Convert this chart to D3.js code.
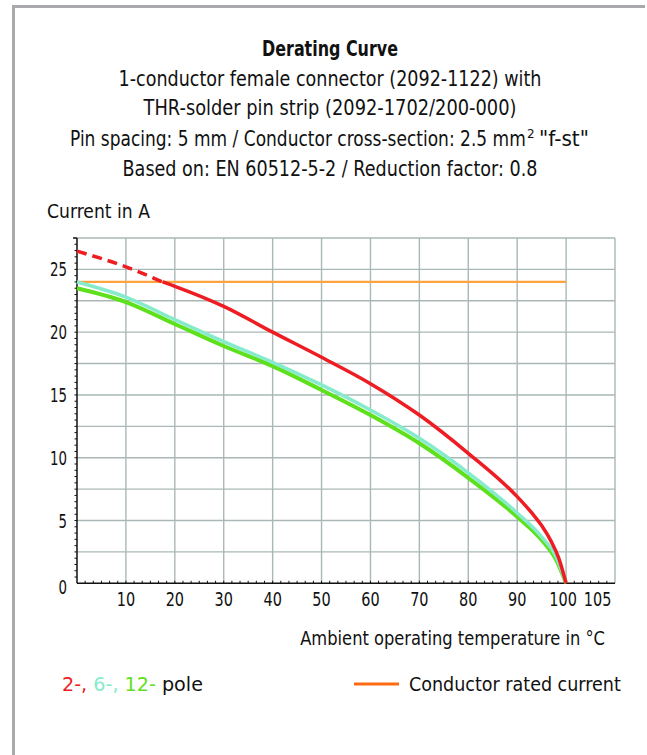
<!DOCTYPE html>
<html>
<head>
<meta charset="utf-8">
<script src="https://cdn.jsdelivr.net/npm/d3@7"></script>
<style>
  html, body { margin: 0; padding: 0; background: #fff; }
  svg { display: block; }
  text { font-family: "DejaVu Sans", sans-serif; fill: #111; }
</style>
</head>
<body>
<svg id="chart" width="647" height="755"></svg>
<script>
// ---- data ----
const titleLines = [
  "Derating Curve",
  "1-conductor female connector (2092-1122) with",
  "THR-solder pin strip (2092-1702/200-000)",
  "Pin spacing: 5 mm / Conductor cross-section: 2.5 mm",
  "Based on: EN 60512-5-2 / Reduction factor: 0.8"
];
const titleSup = "2";
const titleTail = "\"f-st\"";
const yAxisTitle = "Current in A";
const xAxisTitle = "Ambient operating temperature in °C";
const xTickLabels = [10, 20, 30, 40, 50, 60, 70, 80, 90, 100, 105];
const yTickLabels = [0, 5, 10, 15, 20, 25];

// 2-pole (red): dashed part above rated current, solid part below
const red2DashedT = [0, 10, 17.5];
const red2DashedI = [26.45, 25.2, 24.0];
const red2T = [17.5, 20, 30, 40, 50, 60, 70, 80, 90, 93, 95, 97, 98.5, 100];
const red2I = [24.0, 23.65, 22.05, 20.0, 18.0, 15.9, 13.4, 10.35, 6.9, 5.6, 4.6, 3.3, 2.0, 0];
// 6-pole (cyan)
const cyan6T = [0, 10, 20, 30, 40, 50, 60, 70, 80, 90, 95, 98, 100];
const cyan6I = [24.0, 22.8, 21.0, 19.25, 17.6, 15.8, 13.8, 11.55, 8.8, 5.6, 3.7, 2.1, 0];
// 12-pole (green)
const green12T = [0, 10, 20, 30, 40, 50, 60, 70, 80, 90, 95, 98, 100];
const green12I = [23.5, 22.4, 20.65, 18.9, 17.3, 15.4, 13.4, 11.15, 8.4, 5.3, 3.45, 1.85, 0];
// conductor rated current
const ratedT = [0, 100];
const ratedI = [24, 24];

const legendPoles = [["2-, ", "#ee1d23"], ["6-, ", "#86ebcc"], ["12-", "#5ee01c"]];
const legendRated = "Conductor rated current";

// ---- drawing ----
const svg = d3.select("#chart");
const x = d3.scaleLinear().domain([0, 110]).range([77, 615]);
const y = d3.scaleLinear().domain([0, 27.5]).range([583.3, 238]);

// place a text horizontally scaled so that it spans width w
function place(sel, px, py, w, anchor) {
  sel.attr("x", 0).attr("y", 0).attr("text-anchor", anchor || "start");
  const nat = sel.node().getComputedTextLength();
  const sx = w / nat;
  sel.attr("transform", `translate(${px},${py}) scale(${sx},1)`);
  return sel;
}

// frame (top and left sides)
svg.append("path")
  .attr("d", "M13.5,755 L13.5,6.5 L645,6.5")
  .attr("fill", "none").attr("stroke", "#a9aaae").attr("stroke-width", 3);

// titles
const titleY = [56, 86, 115, 146, 176];
const titleW = [136, 423, 373, 456, 415];
titleLines.forEach((t, i) => {
  const el = svg.append("text")
    .style("font-size", "21px")
    .style("font-weight", i === 0 ? "bold" : "normal")
    .text(t);
  if (i === 3) place(el, 70, titleY[i], titleW[i], "start");
  else place(el, 330, titleY[i], titleW[i], "middle");
});
svg.append("text").attr("x", 527).attr("y", titleY[3] - 8)
  .style("font-size", "12px").text(titleSup);
place(svg.append("text").style("font-size", "21px").text(titleTail), 539, titleY[3], 50, "start");

place(svg.append("text").style("font-size", "19px").text(yAxisTitle), 47, 218, 103, "start");

// grid
const grid = svg.append("g").attr("stroke", "#a9b8b6").attr("stroke-width", 1.4);
grid.selectAll("line.h").data(d3.range(2.5, 27.6, 2.5)).join("line")
  .attr("x1", x(0)).attr("x2", x(110))
  .attr("y1", d => y(d)).attr("y2", d => y(d));
grid.selectAll("line.v").data(d3.range(10, 111, 10)).join("line")
  .attr("x1", d => x(d)).attr("x2", d => x(d))
  .attr("y1", y(0)).attr("y2", y(27.5));

// axes lines & minor ticks
const ax = svg.append("g").attr("stroke", "#111");
ax.append("line").attr("x1", x(0)).attr("x2", x(0)).attr("y1", y(0)).attr("y2", y(27.5)).attr("stroke-width", 1.5);
ax.append("line").attr("x1", x(0)).attr("x2", x(110)).attr("y1", y(0)).attr("y2", y(0)).attr("stroke-width", 1.5);
ax.append("line").attr("x1", x(0) - 4).attr("x2", x(0)).attr("y1", y(27.5)).attr("y2", y(27.5)).attr("stroke-width", 1.5);
ax.selectAll("line.ym").data(d3.range(0.5, 27.5, 0.5)).join("line")
  .attr("x1", x(0) - 2.5).attr("x2", x(0))
  .attr("y1", d => y(d)).attr("y2", d => y(d)).attr("stroke-width", 1);
ax.selectAll("line.xm").data(d3.range(1, 66).map(k => k * 10 / 6)).join("line")
  .attr("x1", d => x(d)).attr("x2", d => x(d))
  .attr("y1", y(0)).attr("y2", y(0) - 2.5).attr("stroke-width", 1);

// tick labels
svg.selectAll("text.yt").data(yTickLabels).join("text")
  .attr("class", "yt").style("font-size", "19px").text(d => d)
  .each(function (d) {
    place(d3.select(this), 67, y(d) + (d === 0 ? 11 : 7), String(d).length * 8.5, "end");
  });
svg.selectAll("text.xt").data(xTickLabels).join("text")
  .attr("class", "xt").style("font-size", "19px").text(d => d)
  .each(function (d) {
    place(d3.select(this), x(d) + (d === 105 ? 7 : d === 100 ? -3 : 0), 606,
      String(d).length * 9.2, "middle");
  });

place(svg.append("text").style("font-size", "20px").text(xAxisTitle), 605, 645, 305, "end");

// series
const line = d3.line().x(d => x(d[0])).y(d => y(d[1])).curve(d3.curveMonotoneX);
const zip = (a, b) => a.map((v, i) => [v, b[i]]);

svg.append("path").datum(zip(ratedT, ratedI)).attr("d", line)
  .attr("fill", "none").attr("stroke", "#ffa43c").attr("stroke-width", 2.2);
svg.append("path").datum(zip(green12T, green12I)).attr("d", line)
  .attr("fill", "none").attr("stroke", "#5ee01c").attr("stroke-width", 4);
svg.append("path").datum(zip(cyan6T, cyan6I)).attr("d", line)
  .attr("fill", "none").attr("stroke", "#86ebcc").attr("stroke-width", 3.5);
svg.append("path").datum(zip(red2DashedT, red2DashedI)).attr("d", line)
  .attr("fill", "none").attr("stroke", "#ee1d23").attr("stroke-width", 3.5)
  .attr("stroke-dasharray", "10,6");
svg.append("path").datum(zip(red2T, red2I)).attr("d", line)
  .attr("fill", "none").attr("stroke", "#ee1d23").attr("stroke-width", 3.5);

// legend
const lg = svg.append("text").style("font-size", "20px");
legendPoles.forEach(([t, c]) => lg.append("tspan").style("fill", c).text(t));
lg.append("tspan").text(" pole");
place(lg, 62, 691, 141, "start");

svg.append("line").attr("x1", 354).attr("x2", 399).attr("y1", 684).attr("y2", 684)
  .attr("stroke", "#ff6b12").attr("stroke-width", 3);
place(svg.append("text").style("font-size", "20px").text(legendRated), 409, 691, 212, "start");
</script>
</body>
</html>
